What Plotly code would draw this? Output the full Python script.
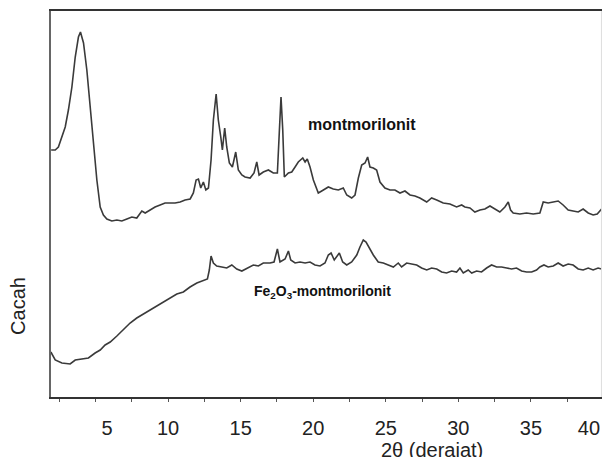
import plotly.graph_objects as go

# 2-theta (degrees) and intensity (arbitrary counts)
mont_2theta = [1.94, 2.22, 2.44, 2.68, 2.91, 3.13, 3.37, 3.60, 3.82, 3.96, 4.17, 4.40, 4.63, 4.86,
               5.09, 5.32, 5.54, 5.78, 6.12, 6.47, 6.81, 7.16, 7.50, 7.84, 8.19, 8.42, 8.76, 9.10,
               9.45, 9.79, 10.14, 10.48, 10.83, 11.17, 11.52, 11.74, 11.93, 12.09, 12.25, 12.43,
               12.60, 12.78, 12.96, 13.12, 13.31, 13.46, 13.63, 13.74, 13.90, 14.04, 14.22, 14.43,
               14.66, 14.84, 15.08, 15.30, 15.65, 15.92, 16.11, 16.27, 16.56, 16.91, 17.25, 17.53,
               17.67, 17.78, 17.90, 18.01, 18.29, 18.52, 18.75, 18.97, 19.28, 19.44, 19.59, 19.78,
               20.01, 20.35, 20.70, 21.04, 21.38, 21.73, 22.07, 22.31, 22.65, 22.88, 23.11, 23.34,
               23.57, 23.75, 23.91, 24.14, 24.37, 24.60, 24.94, 25.29, 25.63, 25.98, 26.32, 26.67,
               27.01, 27.35, 27.82, 28.16, 28.51, 28.96, 29.42, 29.88, 30.23, 30.45, 30.80, 31.14,
               31.49, 31.83, 32.18, 32.52, 32.86, 33.21, 33.44, 33.60, 33.78, 34.24, 34.70, 35.16,
               35.62, 35.85, 36.19, 36.54, 36.88, 37.22, 37.57, 37.91, 38.26, 38.60, 38.95, 39.29,
               39.57, 39.87]
mont_counts = [247, 247, 250, 260, 270, 287, 310, 340, 360, 365, 354, 327, 290, 250,
               217, 190, 182, 178, 176, 177, 176, 178, 180, 179, 186, 184, 187, 190,
               192, 194, 194, 194, 195, 197, 198, 204, 217, 218, 209, 215,
               207, 209, 237, 277, 303, 277, 260, 247, 269, 250, 234, 230,
               245, 227, 222, 220, 219, 224, 235, 222, 225, 227, 224, 224,
               267, 300, 267, 220, 224, 225, 230, 235, 239, 235, 238, 230,
               217, 204, 207, 210, 208, 207, 209, 202, 199, 202, 219, 232,
               234, 240, 230, 229, 227, 215, 209, 207, 207, 204, 206, 202,
               201, 199, 195, 199, 197, 194, 193, 190, 192, 190, 189, 185,
               187, 188, 191, 188, 185, 190, 195, 187, 184, 183, 184, 183,
               184, 195, 194, 195, 196, 192, 187, 186, 185, 188, 184, 182,
               183, 188]

fe_2theta = [1.92, 2.22, 2.68, 3.25, 3.60, 4.06, 4.51, 4.97, 5.32, 5.66, 6.01, 6.47, 6.92, 7.38,
             7.84, 8.30, 8.76, 9.22, 9.68, 10.14, 10.60, 11.05, 11.51, 11.98, 12.43, 12.71, 12.84,
             12.96, 13.12, 13.35, 13.70, 14.04, 14.39, 14.73, 15.08, 15.53, 15.87, 16.22, 16.56,
             17.02, 17.30, 17.53, 17.71, 18.06, 18.29, 18.45, 18.75, 19.09, 19.44, 19.78, 20.12,
             20.47, 20.81, 21.04, 21.23, 21.45, 21.80, 22.03, 22.31, 22.65, 23.00, 23.22, 23.45,
             23.64, 23.86, 24.14, 24.48, 24.83, 25.17, 25.52, 25.86, 26.09, 26.44, 26.78, 27.13,
             27.47, 27.82, 28.16, 28.51, 28.85, 29.19, 29.54, 29.88, 30.11, 30.34, 30.68, 30.92,
             31.26, 31.60, 31.95, 32.29, 32.64, 32.98, 33.33, 33.67, 34.01, 34.36, 34.70, 35.05,
             35.39, 35.62, 35.90, 36.19, 36.54, 36.88, 37.22, 37.57, 37.91, 38.26, 38.60, 38.95,
             39.29, 39.63, 39.87]
fe_counts = [45, 37, 34, 33, 37, 38, 39, 44, 47, 52, 55, 61, 67, 74,
             79, 83, 87, 91, 95, 99, 103, 105, 110, 114, 116, 118, 127,
             141, 134, 131, 130, 129, 132, 128, 126, 129, 132, 131, 134,
             134, 135, 148, 135, 138, 146, 137, 134, 135, 134, 135, 132,
             131, 134, 142, 144, 137, 144, 135, 132, 135, 142, 150, 157,
             155, 149, 142, 135, 134, 132, 130, 134, 130, 134, 133, 132,
             129, 127, 129, 128, 125, 124, 126, 125, 129, 124, 127, 124,
             126, 125, 129, 132, 130, 130, 129, 128, 129, 126, 125, 125,
             127, 130, 132, 130, 131, 134, 131, 133, 132, 128, 127, 129,
             127, 129, 128]

tick_values = [5, 10, 15, 20, 25, 30, 35, 40]
tick_labels = ["5", "10", "15", "20", "25", "30", "35", "40"]

FONT = "Liberation Sans, Arial, sans-serif"
LINE = "#3a3a3a"

fig = go.Figure()
fig.add_trace(go.Scatter(x=mont_2theta, y=mont_counts, mode="lines",
                         line=dict(color=LINE, width=1.6), name="montmorilonit",
                         showlegend=False))
fig.add_trace(go.Scatter(x=fe_2theta, y=fe_counts, mode="lines",
                         line=dict(color=LINE, width=1.6), name="Fe2O3-montmorilonit",
                         showlegend=False))

# the end labels sit slightly inward in the original figure
label_pos = list(tick_values)
label_pos[0] += 0.8
label_pos[-1] -= 1.0

fig.update_layout(
    width=602, height=457,
    margin=dict(l=51, r=0, t=11, b=60),
    paper_bgcolor="white", plot_bgcolor="white",
    font=dict(family=FONT, color="#222"),
    xaxis=dict(range=[1.93, 39.9], showgrid=False, zeroline=False, automargin=False,
               showline=True, linecolor="#333", linewidth=1.5, mirror=True,
               tickmode="array", tickvals=label_pos, ticktext=tick_labels,
               ticks="", tickfont=dict(size=20, family=FONT, color="#222"),
               ticklabelstandoff=12,
               minor=dict(ticks="outside", ticklen=3, tickwidth=1, tickcolor="#555",
                          tick0=0, dtick=2.5, showgrid=False)),
    yaxis=dict(range=[0, 386], showgrid=False, zeroline=False, automargin=False,
               showline=True, linecolor="#666", linewidth=2,
               showticklabels=False, ticks=""),
    annotations=[
        dict(text="Cacah", xref="paper", yref="y", x=-0.06, y=91, textangle=-90,
             showarrow=False, font=dict(size=20, family=FONT, color="#222"),
             xanchor="center", yanchor="middle"),
        dict(text="2θ (derajat)", xref="x", yref="paper", x=28.18, y=-0.137,
             showarrow=False, font=dict(size=20, family=FONT, color="#222"),
             xanchor="center", yanchor="middle"),
        dict(text="<b>montmorilonit</b>", xref="x", yref="y", x=23.38, y=272.5,
             showarrow=False, font=dict(size=16, family=FONT, color="#111"),
             xanchor="center", yanchor="middle"),
        dict(text="<b>Fe<sub>2</sub>O<sub>3</sub>-montmorilonit</b>", xref="x", yref="y",
             x=20.67, y=105, showarrow=False,
             font=dict(size=14, family=FONT, color="#111"),
             xanchor="center", yanchor="middle"),
    ],
    shapes=[dict(type="line", xref="paper", yref="paper", x0=0.999, x1=0.999, y0=0, y1=1,
                 line=dict(color="#dddddd", width=1))],
)

fig.write_html("out.html", config={"displayModeBar": False},
               post_script="document.body.style.margin='0';document.body.style.overflow='hidden';")
